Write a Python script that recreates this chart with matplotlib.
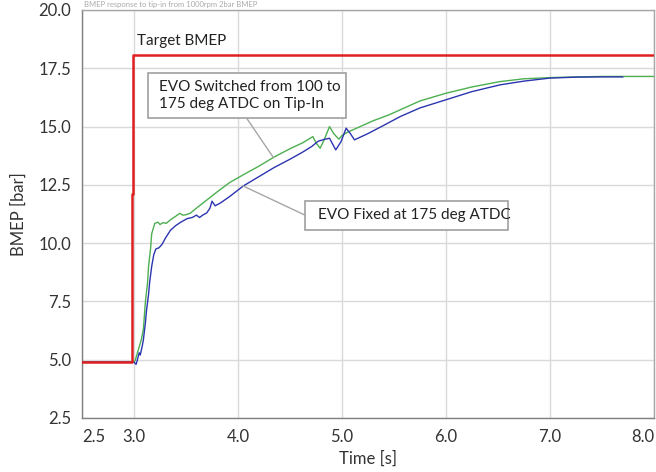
import numpy as np
import matplotlib
matplotlib.use("Agg")
import matplotlib.pyplot as plt
from matplotlib.patches import Rectangle

plt.rcParams['font.family'] = ['Lato', 'DejaVu Sans']

# ---- data ----
x_ticks = [2.5, 3.0, 4.0, 5.0, 6.0, 7.0, 8.0]
x_tick_labels = ["2.5", "3.0", "4.0", "5.0", "6.0", "7.0", "8.0"]
y_ticks = [2.5, 5.0, 7.5, 10.0, 12.5, 15.0, 17.5, 20.0]

target_t = [2.5, 2.985, 2.985, 2.995, 2.995, 8.0]
target_bmep = [4.9, 4.9, 12.1, 12.1, 18.05, 18.05]

switched_t = [2.5, 2.99, 3.01, 3.04, 3.07, 3.09, 3.11, 3.13, 3.14, 3.16, 3.17, 3.19, 3.20,
              3.23, 3.25, 3.28, 3.31, 3.35, 3.40, 3.44, 3.47, 3.50, 3.54, 3.60, 3.70, 3.80,
              3.92, 4.05, 4.20, 4.35, 4.50, 4.62, 4.72, 4.75, 4.79, 4.83, 4.88, 4.92, 4.97,
              5.00, 5.05, 5.15, 5.30, 5.45, 5.56, 5.75, 6.0, 6.25, 6.52, 6.75, 7.0, 7.25,
              7.5, 7.75, 8.0]
switched_bmep = [4.9, 4.9, 4.95, 5.4, 5.85, 6.3, 7.5, 8.3, 9.0, 9.8, 10.4, 10.7, 10.85,
                 10.9, 10.8, 10.88, 10.85, 11.0, 11.15, 11.28, 11.2, 11.22, 11.28, 11.5, 11.85,
                 12.2, 12.6, 12.93, 13.3, 13.7, 14.05, 14.3, 14.57, 14.3, 14.07, 14.45, 15.0,
                 14.7, 14.46, 14.62, 14.75, 14.95, 15.25, 15.5, 15.72, 16.1, 16.43, 16.7,
                 16.93, 17.05, 17.1, 17.13, 17.15, 17.15, 17.15]

fixed_t = [2.5, 3.0, 3.02, 3.03, 3.05, 3.06, 3.08, 3.09, 3.11, 3.12, 3.14, 3.15, 3.17,
           3.19, 3.21, 3.24, 3.27, 3.30, 3.35, 3.40, 3.45, 3.51, 3.56, 3.60, 3.63, 3.66,
           3.70, 3.73, 3.75, 3.78, 3.80, 3.83, 3.92, 4.05, 4.2, 4.35, 4.5, 4.62, 4.71, 4.77,
           4.83, 4.88, 4.94, 4.99, 5.04, 5.08, 5.12, 5.25, 5.4, 5.56, 5.75, 6.0, 6.25, 6.52,
           6.75, 7.0, 7.25, 7.5, 7.7]
fixed_bmep = [4.9, 4.9, 4.8, 4.95, 5.3, 5.2, 5.6, 5.85, 6.6, 7.1, 7.8, 8.3, 9.0, 9.5, 9.75,
              9.8, 9.95, 10.2, 10.55, 10.75, 10.9, 11.05, 11.1, 11.2, 11.1, 11.2, 11.3, 11.5,
              11.8, 11.6, 11.65, 11.72, 12.0, 12.45, 12.85, 13.25, 13.6, 13.9, 14.15, 14.37,
              14.45, 14.5, 14.0, 14.35, 14.93, 14.7, 14.43, 14.7, 15.05, 15.43, 15.8, 16.15,
              16.5, 16.79, 16.95, 17.08, 17.12, 17.13, 17.13]

# ---- figure ----
fig = plt.figure(figsize=(6.56, 4.72), dpi=100)
ax = fig.add_axes([82/656, 1 - 418/472, (654-82)/656, (418-10)/472])

ax.set_xlim(2.5, 8.0)
ax.set_ylim(2.5, 20.0)
ax.set_xticks(x_ticks)
ax.set_xticklabels(x_tick_labels)
ax.set_yticks(y_ticks)
ax.set_yticklabels([f"{v:.1f}" for v in y_ticks])
ax.tick_params(length=0, labelsize=12, colors='#333333', pad=8)
xl = ax.get_xticklabels()
xl[0].set_ha('left')
xl[-1].set_ha('right')
ax.grid(True, color='#d9d9d9', lw=1.0)
ax.set_axisbelow(True)
for s in ['left', 'bottom']:
    ax.spines[s].set_color('#7f7f7f')
    ax.spines[s].set_linewidth(1.0)
for s in ['top', 'right']:
    ax.spines[s].set_color('#a6a6a6')
    ax.spines[s].set_linewidth(1.0)

ax.plot(switched_t, switched_bmep, color='#4caf50', lw=1.0, zorder=3)
ax.plot(fixed_t, fixed_bmep, color='#2b35b0', lw=1.0, zorder=4)
ax.plot(target_t, target_bmep, color='#e02020', lw=1.8, zorder=5)

ax.set_xlabel("Time [s]", fontsize=12, color='#333333', labelpad=4)
ax.set_ylabel("BMEP [bar]", fontsize=12, color='#333333', labelpad=8)

# annotations
ax.text(3.03, 18.68, "Target BMEP", fontsize=11, va='center', ha='left', color='#222222')

lead_col = '#a6a6a6'
gx = 4.34
ax.plot([4.08, gx], [15.38, np.interp(gx, switched_t, switched_bmep)], color=lead_col, lw=1.0, zorder=6)
bx = 4.05
ax.plot([4.64, bx], [11.21, np.interp(bx, fixed_t, fixed_bmep)], color=lead_col, lw=1.0, zorder=6)

ax.add_patch(Rectangle((3.13, 15.38), 5.04 - 3.13, 17.31 - 15.38, facecolor='white',
                       edgecolor='#a0a0a0', lw=1.2, zorder=7))
ax.text(3.245, 16.34, "EVO Switched from 100 to\n175 deg ATDC on Tip-In", fontsize=11,
        va='center', ha='left', color='#222222', zorder=8, linespacing=1.25)

ax.add_patch(Rectangle((4.64, 10.57), 6.60 - 4.64, 11.81 - 10.57, facecolor='white',
                       edgecolor='#a0a0a0', lw=1.2, zorder=7))
ax.text(4.77, 11.2, "EVO Fixed at 175 deg ATDC", fontsize=11, va='center', ha='left',
        color='#222222', zorder=8)

# faint title at very top
fig.text(84/656, 1 - 1/472, "BMEP response to tip-in from 1000rpm 2bar BMEP", fontsize=5.5,
         color='#aaaaaa', va='top', ha='left')

fig.savefig("out.png", dpi=100)
